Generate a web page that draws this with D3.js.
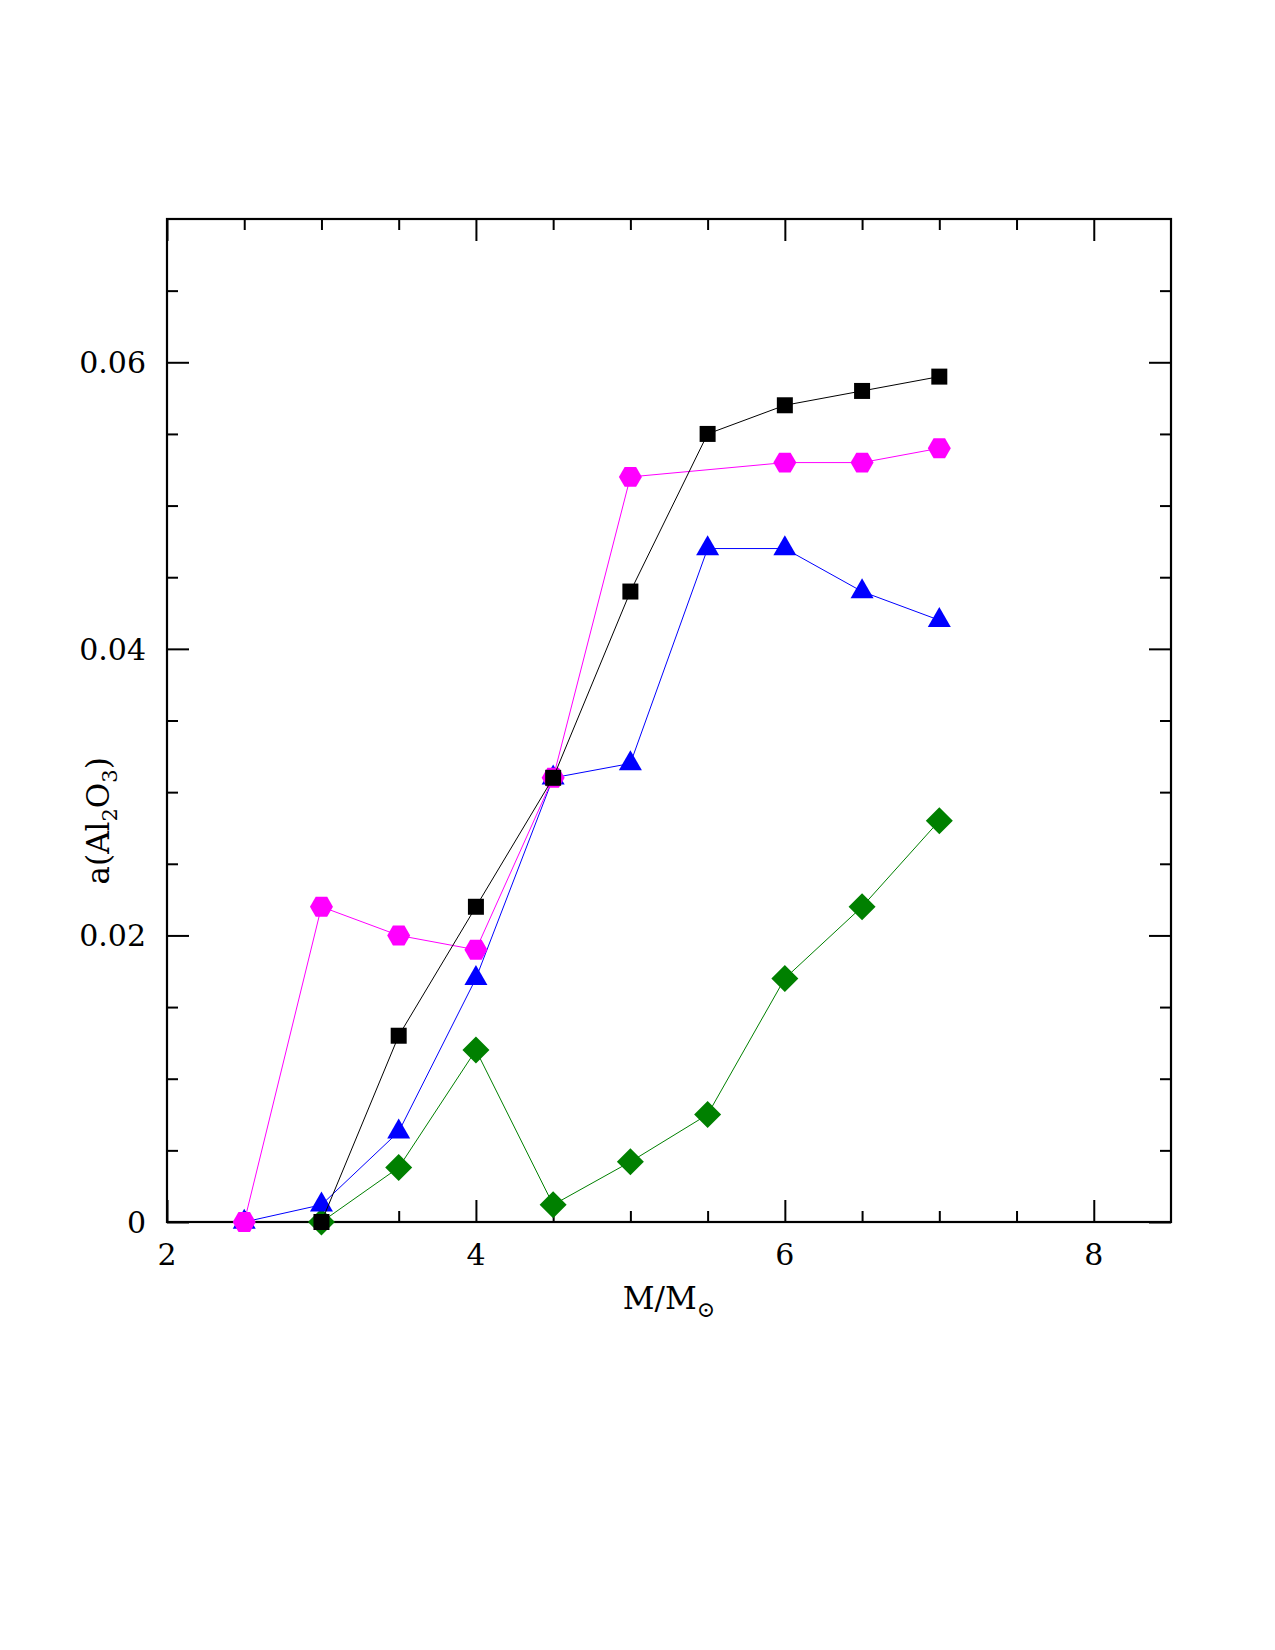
<!DOCTYPE html>
<html>
<head>
<meta charset="utf-8">
<script src="https://cdn.jsdelivr.net/npm/d3@7"></script>
<style>
  body { margin:0; background:#fff; }
  text { font-family: "DejaVu Serif", serif; fill:#000; }
</style>
</head>
<body>
<div class="plot"></div>
<script>
// masses (x) and the four series
var massBlack   = [3, 3.5, 4, 4.5, 5, 5.5, 6, 6.5, 7];
var valBlack    = [0, 0.013, 0.022, 0.031, 0.044, 0.055, 0.057, 0.058, 0.059];

var massMagenta = [2.5, 3, 3.5, 4, 4.5, 5, 6, 6.5, 7];
var valMagenta  = [0, 0.022, 0.020, 0.019, 0.031, 0.052, 0.053, 0.053, 0.054];

var massBlue    = [2.5, 3, 3.5, 4, 4.5, 5, 5.5, 6, 6.5, 7];
var valBlue     = [0, 0.0012, 0.0063, 0.017, 0.031, 0.032, 0.047, 0.047, 0.044, 0.042];

var massGreen   = [3, 3.5, 4, 4.5, 5, 5.5, 6, 6.5, 7];
var valGreen    = [0, 0.0038, 0.012, 0.0012, 0.0042, 0.0075, 0.017, 0.022, 0.028];

var xTickLabels = [2, 4, 6, 8];
var yTickLabels = [0, 0.02, 0.04, 0.06];

var margin = {top:219, left:167, bottom:428, right:104};
var width  = 1275 - margin.left - margin.right;
var height = 1650 - margin.top - margin.bottom;

var svg = d3.select(".plot").append("svg")
            .attr("width", 1275).attr("height", 1650);
var g = svg.append("g")
           .attr("transform", "translate(" + margin.left + "," + margin.top + ")");

var x = d3.scaleLinear().domain([2, 8.5]).range([0, width]);
var y = d3.scaleLinear().domain([0, 0.07]).range([height, 0]);

// ticks on all four sides, pointing in
var xMinor = d3.range(2.5, 8.5, 0.5).filter(function(d){ return d % 2 != 0; });
var yMinor = d3.range(0.005, 0.07, 0.005).filter(function(d){ return Math.abs(d / 0.02 - Math.round(d / 0.02)) > 1e-6; });

function tickAxis(axisFn, scale, vals, len, tr){
  var a = axisFn(scale).tickValues(vals).tickSize(len).tickFormat("");
  var grp = g.append("g").attr("transform", tr).call(a);
  grp.select(".domain").remove();
  grp.selectAll("line").attr("stroke", "#000").attr("stroke-width", 2);
}
tickAxis(d3.axisTop, x, xTickLabels, 22, "translate(0," + height + ")");
tickAxis(d3.axisTop, x, xMinor, 11, "translate(0," + height + ")");
tickAxis(d3.axisBottom, x, xTickLabels, 22, "translate(0,0)");
tickAxis(d3.axisBottom, x, xMinor, 11, "translate(0,0)");
tickAxis(d3.axisRight, y, yTickLabels, 22, "translate(0,0)");
tickAxis(d3.axisRight, y, yMinor, 11, "translate(0,0)");
tickAxis(d3.axisLeft, y, yTickLabels, 22, "translate(" + width + ",0)");
tickAxis(d3.axisLeft, y, yMinor, 11, "translate(" + width + ",0)");

g.append("rect").attr("width", width).attr("height", height)
 .attr("fill", "none").attr("stroke", "#000").attr("stroke-width", 2.2);

// tick labels
g.selectAll(".xlab").data(xTickLabels).enter().append("text")
 .attr("x", function(d){ return x(d); })
 .attr("y", height + 43)
 .attr("text-anchor", "middle")
 .attr("font-size", "30px")
 .text(function(d){ return d; });

g.selectAll(".ylab").data(yTickLabels).enter().append("text")
 .attr("x", -21)
 .attr("y", function(d){ return y(d); })
 .attr("dy", "0.36em")
 .attr("text-anchor", "end")
 .attr("font-size", "30px")
 .text(function(d){ return d == 0 ? "0" : d3.format(".2f")(d); });

// axis titles
var xTitle = g.append("text")
 .attr("x", width/2).attr("y", height + 87)
 .attr("text-anchor", "middle").attr("font-size", "31px");
xTitle.append("tspan").text("M/M");
xTitle.append("tspan").attr("dy", 8).attr("font-size", "22px").text("\u2299");

var yTitle = g.append("text")
 .attr("transform", "translate(-58," + (y(0.028)) + ") rotate(-90)")
 .attr("text-anchor", "middle").attr("font-size", "31px");
yTitle.append("tspan").text("a(Al");
yTitle.append("tspan").attr("dy", 8).attr("font-size", "21px").text("2");
yTitle.append("tspan").attr("dy", -8).text("O");
yTitle.append("tspan").attr("dy", 8).attr("font-size", "21px").text("3");
yTitle.append("tspan").attr("dy", -8).text(")");

// marker shapes
function hexPath(r){
  var p = [];
  for (var i = 0; i < 6; i++) {
    var a = Math.PI / 3 * i;
    p.push([r * Math.cos(a), r * Math.sin(a)]);
  }
  return "M" + p.join("L") + "Z";
}
var shapes = {
  square:   "M-8,-8L8,-8L8,8L-8,8Z",
  hexagon:  hexPath(11.5),
  triangle: "M0,-13.3L11.5,6.7L-11.5,6.7Z",
  diamond:  "M0,-13.5L13.5,0L0,13.5L-13.5,0Z"
};

var series = [
  {mass: massGreen,   val: valGreen,   color: "#008000", shape: "diamond"},
  {mass: massBlue,    val: valBlue,    color: "#0000ff", shape: "triangle"},
  {mass: massMagenta, val: valMagenta, color: "#ff00ff", shape: "hexagon"},
  {mass: massBlack,   val: valBlack,   color: "#000000", shape: "square"}
];

var line = d3.line().x(function(d){ return x(d[0]); }).y(function(d){ return y(d[1]); });

series.forEach(function(s){
  var pts = d3.zip(s.mass, s.val);
  g.append("path").datum(pts)
   .attr("d", line)
   .attr("fill", "none")
   .attr("stroke", s.color)
   .attr("stroke-width", 1);
  g.selectAll(null).data(pts).enter().append("path")
   .attr("transform", function(d){ return "translate(" + x(d[0]) + "," + y(d[1]) + ")"; })
   .attr("d", shapes[s.shape])
   .attr("fill", s.color);
});
</script>
</body>
</html>
